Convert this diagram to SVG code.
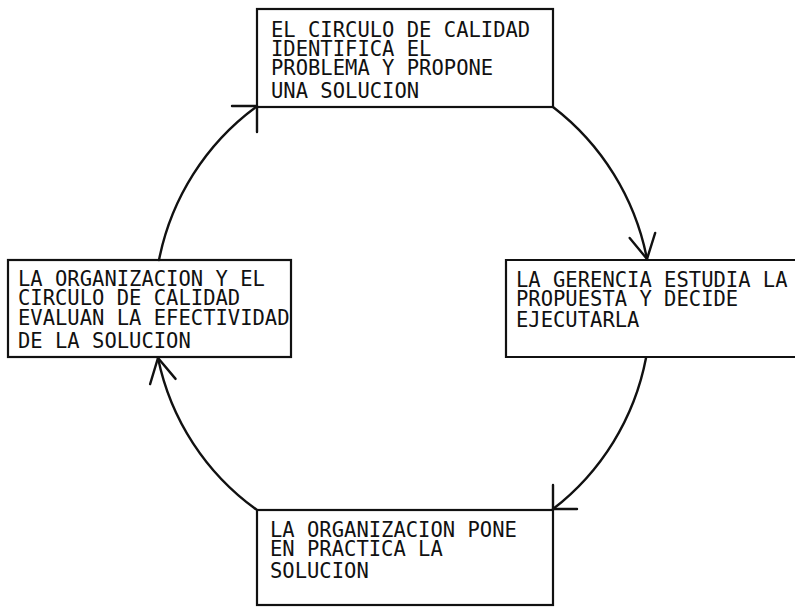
<svg xmlns="http://www.w3.org/2000/svg" width="795" height="608" viewBox="0 0 795 608">
<style>
.box{fill:none;stroke:#111;stroke-width:2.2}
.t{font-family:"DejaVu Sans Mono","Liberation Mono",monospace;font-size:20.5px;fill:#111}
.c{fill:none;stroke:#111;stroke-width:2.4;stroke-linecap:round}
</style>
<defs>
<marker id="ah" viewBox="-30 -15 32 30" refX="0" refY="0" markerWidth="32" markerHeight="30" markerUnits="userSpaceOnUse" orient="auto">
<path d="M-24,-13 L0,0 L-24,13" fill="none" stroke="#111" stroke-width="2.4" stroke-linecap="round"/>
</marker>
</defs>
<rect width="795" height="608" fill="#fff"/>
<g id="node-top">
<rect class="box" x="257" y="9" width="296" height="98"/>
<text class="t"><tspan x="271" y="37">EL CIRCULO DE CALIDAD</tspan><tspan x="271" y="56">IDENTIFICA EL</tspan><tspan x="271" y="75">PROBLEMA Y PROPONE</tspan><tspan x="271" y="98">UNA SOLUCION</tspan></text>
</g>
<g id="node-right">
<path class="box" d="M800,260 H506 V357 H800"/>
<text class="t"><tspan x="516" y="287">LA GERENCIA ESTUDIA LA</tspan><tspan x="516" y="306">PROPUESTA Y DECIDE</tspan><tspan x="516" y="327">EJECUTARLA</tspan></text>
</g>
<g id="node-bottom">
<rect class="box" x="257" y="510" width="296" height="95"/>
<text class="t"><tspan x="270" y="537">LA ORGANIZACION PONE</tspan><tspan x="270" y="556">EN PRACTICA LA</tspan><tspan x="270" y="578">SOLUCION</tspan></text>
</g>
<g id="node-left">
<rect class="box" x="8" y="260" width="283" height="97"/>
<text class="t"><tspan x="18" y="286">LA ORGANIZACION Y EL</tspan><tspan x="18" y="305">CIRCULO DE CALIDAD</tspan><tspan x="18" y="325">EVALUAN LA EFECTIVIDAD</tspan><tspan x="18" y="348">DE LA SOLUCION</tspan></text>
</g>
<g id="connectors">
<path class="c" d="M553,107 A252,252 0 0 1 647,259" marker-end="url(#ah)"/>
<path class="c" d="M646,358 A250,250 0 0 1 553,509"/>
<path class="c" d="M553,485 V510 M553,509 H577"/>
<path class="c" d="M257,510 A248,248 0 0 1 158,358" marker-end="url(#ah)"/>
<path class="c" d="M159,260 A250,250 0 0 1 256,107"/>
<path class="c" d="M257,107 V132 M232,106 H257"/>
</g>
</svg>
